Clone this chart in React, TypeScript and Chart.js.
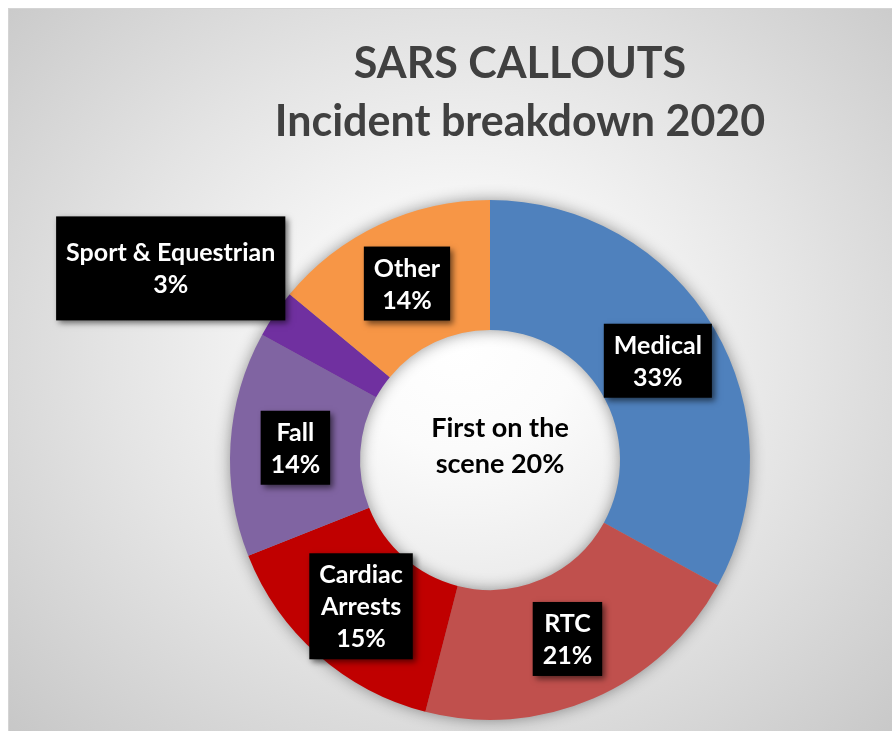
import { useEffect, useRef } from "react";
import { Chart, registerables } from "chart.js";

Chart.register(...registerables);

// ---- data ----
const categories = ["Medical", "RTC", "Cardiac Arrests", "Fall", "Sport & Equestrian", "Other"];
const labelLines = [["Medical"], ["RTC"], ["Cardiac", "Arrests"], ["Fall"], ["Sport & Equestrian"], ["Other"]];
const values = [33, 21, 15, 14, 3, 14];
const colors = ["#4F81BD", "#C0504D", "#C00000", "#8064A2", "#7030A0", "#F79646"];
const titleLines = ["SARS CALLOUTS", "Incident breakdown 2020"];
const centerLines = ["First on the", "scene 20%"];

const CANVAS_W = 883;
const CANVAS_H = 722;
const FONT = "Lato, 'Open Sans', sans-serif";

// manual adjustments of individual label boxes (index -> tweak)
const labelTweaks: Record<number, { dx: number; dy: number; padY: number }> = {
  4: { dx: -158, dy: -82, padY: 15 },
};

const ringShadowPlugin = {
  id: "ringShadow",
  beforeDatasetsDraw(chart: any) {
    const meta = chart.getDatasetMeta(0);
    if (!meta.data.length) return;
    const a = meta.data[0].getProps(["x", "y", "innerRadius", "outerRadius"], true);
    const ctx = chart.ctx;
    ctx.save();
    ctx.shadowColor = "rgba(0,0,0,0.45)";
    ctx.shadowBlur = 16;
    ctx.fillStyle = "#9a9a9a";
    ctx.beginPath();
    ctx.moveTo(a.x + a.outerRadius - 1, a.y);
    ctx.arc(a.x, a.y, a.outerRadius - 1, 0, Math.PI * 2);
    ctx.moveTo(a.x + a.innerRadius + 1, a.y);
    ctx.arc(a.x, a.y, a.innerRadius + 1, 0, Math.PI * 2);
    ctx.fill("evenodd");
    ctx.restore();
  },
};

const textPlugin = {
  id: "textOverlay",
  afterDatasetsDraw(chart: any) {
    const ctx = chart.ctx;
    const meta = chart.getDatasetMeta(0);
    const lineH = 32;
    ctx.save();
    ctx.font = `bold 25px ${FONT}`;
    meta.data.forEach((arc: any, i: number) => {
      const pos = arc.tooltipPosition(true);
      const tw = labelTweaks[i] || { dx: 0, dy: 0, padY: 0 };
      const cx = pos.x + tw.dx;
      const cy = pos.y + tw.dy;
      const lines = [...labelLines[i], `${values[i]}%`];
      const w = Math.max(...lines.map((l) => ctx.measureText(l).width)) + 20;
      const h = lines.length * lineH + 10 + tw.padY * 2;
      ctx.save();
      ctx.shadowColor = "rgba(0,0,0,0.55)";
      ctx.shadowBlur = 6;
      ctx.shadowOffsetX = 3;
      ctx.shadowOffsetY = 3;
      ctx.fillStyle = "#000000";
      ctx.fillRect(cx - w / 2, cy - h / 2, w, h);
      ctx.restore();
      ctx.fillStyle = "#ffffff";
      ctx.textAlign = "center";
      ctx.textBaseline = "middle";
      lines.forEach((l, k) => {
        ctx.fillText(l, cx, cy + (k - (lines.length - 1) / 2) * lineH + 1);
      });
    });
    // center text
    const a = meta.data[0].getProps(["x", "y"], true);
    ctx.fillStyle = "#000000";
    ctx.font = `bold 27px ${FONT}`;
    ctx.textAlign = "center";
    ctx.textBaseline = "alphabetic";
    ctx.fillText(centerLines[0], a.x + 10, a.y - 23);
    ctx.fillText(centerLines[1], a.x + 10, a.y + 13);
    ctx.restore();
  },
  afterDraw(chart: any) {
    const ctx = chart.ctx;
    ctx.save();
    ctx.fillStyle = "#404040";
    ctx.font = `bold 43px ${FONT}`;
    ctx.textAlign = "center";
    ctx.textBaseline = "alphabetic";
    ctx.fillText(titleLines[0], 511, 69);
    ctx.fillText(titleLines[1], 511, 127);
    ctx.restore();
  },
};

export default function App() {
  const ref = useRef<HTMLCanvasElement | null>(null);
  useEffect(() => {
    if (!ref.current) return;
    const chart = new Chart(ref.current, {
      type: "doughnut",
      data: {
        labels: categories,
        datasets: [
          {
            data: values,
            backgroundColor: colors,
            borderWidth: 0,
            hoverOffset: 0,
            offset: 0,
          },
        ],
      },
      options: {
        animation: false,
        responsive: false,
        devicePixelRatio: 1,
        events: [],
        cutout: "50%",
        rotation: 0,
        layout: { padding: { left: 221, right: 142, top: 191, bottom: 11 } },
        plugins: {
          legend: { display: false },
          tooltip: { enabled: false },
          title: { display: false },
        },
      },
      plugins: [ringShadowPlugin, textPlugin],
    });
    return () => chart.destroy();
  }, []);

  return (
    <div
      style={{
        position: "absolute",
        left: 8,
        top: 8,
        width: CANVAS_W,
        height: CANVAS_H,
        borderLeft: "1px solid #d4d4d4",
        borderTop: "1px solid #d4d4d4",
        background:
          "radial-gradient(ellipse 72% 78% at 51% 47%, #ffffff 0%, #fbfbfb 18%, #e4e4e4 55%, #c6c6c6 100%)",
        overflow: "hidden",
      }}
    >
      <canvas ref={ref} width={CANVAS_W} height={CANVAS_H} style={{ display: "block" }} />
    </div>
  );
}
